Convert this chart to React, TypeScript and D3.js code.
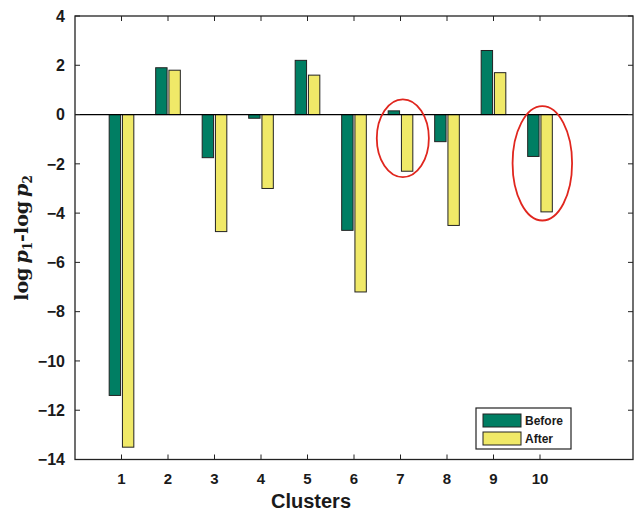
import React from "react";
import * as d3 from "d3";

const clusters = [1, 2, 3, 4, 5, 6, 7, 8, 9, 10];
const before = [-11.4, 1.9, -1.75, -0.15, 2.2, -4.7, 0.15, -1.1, 2.6, -1.7];
const after = [-13.5, 1.8, -4.75, -3.0, 1.6, -7.2, -2.3, -4.5, 1.7, -3.95];
const yTicks = [4, 2, 0, -2, -4, -6, -8, -10, -12, -14];
const seriesNames = ["Before", "After"];
const seriesColors = ["#007e63", "#f0e968"];
// highlighted clusters: [cx, cy, rx, ry] in data units
const highlights = [
  [7.05, -0.96, 0.56, 1.58],
  [10.05, -1.98, 0.64, 2.32],
];

export default function App() {
  const W = 638, H = 516;
  const L = 75, R = 633, T = 16, B = 459.5;
  const x = d3.scaleLinear().domain([0, 12]).range([L, R]);
  const y = d3.scaleLinear().domain([-14, 4]).range([B, T]);
  const bw = 0.245;
  const gap = 0.02;
  const font = "Liberation Sans, Arial, Helvetica, sans-serif";
  const bar = (v: number, xc: number, i: number) => {
    const x0 = i === 0 ? xc - gap - bw : xc + gap;
    const y0 = y(Math.max(0, v));
    const y1 = y(Math.min(0, v));
    return (
      <rect
        key={`${i}-${xc}`}
        x={x(x0)}
        y={y0}
        width={x(x0 + bw) - x(x0)}
        height={Math.max(0.5, y1 - y0)}
        fill={seriesColors[i]}
        stroke="#222"
        strokeWidth={1}
      />
    );
  };
  return (
    <svg width={W} height={H} style={{ display: "block", position: "absolute", left: 0, top: 0 }}>
      <rect x={0} y={0} width={W} height={H} fill="#fff" />
      {clusters.map((c, k) => bar(before[k], c, 0))}
      {clusters.map((c, k) => bar(after[k], c, 1))}
      <line x1={L} x2={R} y1={y(0)} y2={y(0)} stroke="#000" strokeWidth={1.2} />
      <rect x={L} y={T} width={R - L} height={B - T} fill="none" stroke="#222" strokeWidth={1.3} />
      {yTicks.map((t) => (
        <g key={`yt${t}`}>
          <line x1={L} x2={L + 5} y1={y(t)} y2={y(t)} stroke="#222" />
          <line x1={R - 5} x2={R} y1={y(t)} y2={y(t)} stroke="#222" />
          <text
            x={L - 10}
            y={y(t)}
            dy="0.36em"
            textAnchor="end"
            fontFamily={font}
            fontWeight="bold"
            fontSize={16}
            fill="#1a1a1a"
          >
            {t < 0 ? `\u2212${Math.abs(t)}` : t}
          </text>
        </g>
      ))}
      {clusters.map((c) => (
        <g key={`xt${c}`}>
          <line x1={x(c)} x2={x(c)} y1={B} y2={B - 5} stroke="#222" />
          <line x1={x(c)} x2={x(c)} y1={T} y2={T + 5} stroke="#222" />
          <text
            x={x(c)}
            y={B + 24}
            textAnchor="middle"
            fontFamily={font}
            fontWeight="bold"
            fontSize={15}
            fill="#1a1a1a"
          >
            {c}
          </text>
        </g>
      ))}
      {highlights.map(([cx, cy, rx, ry], i) => (
        <ellipse
          key={`h${i}`}
          cx={x(cx)}
          cy={y(cy)}
          rx={x(rx) - x(0)}
          ry={y(0) - y(ry)}
          fill="none"
          stroke="#e0261e"
          strokeWidth={1.8}
        />
      ))}
      <text
        x={311}
        y={508}
        textAnchor="middle"
        fontFamily={font}
        fontWeight="bold"
        fontSize={20}
        fill="#1a1a1a"
      >
        Clusters
      </text>
      <text
        transform={`translate(28,${238}) rotate(-90)`}
        textAnchor="middle"
        fontFamily="DejaVu Serif, Liberation Serif, serif"
        fontSize={19}
        fontWeight="bold"
        fill="#1a1a1a"
      >
        <tspan>log</tspan>
        <tspan fontStyle="italic" dx="4">p</tspan>
        <tspan fontSize={12} dy="4">1</tspan>
        <tspan dy="-4">-log</tspan>
        <tspan fontStyle="italic" dx="4">p</tspan>
        <tspan fontSize={12} dy="4">2</tspan>
      </text>
      <g>
        <rect x={476} y={408} width={95} height={41} fill="#fff" stroke="#222" strokeWidth={1.2} />
        {seriesNames.map((s, i) => (
          <g key={s}>
            <rect x={483} y={414 + i * 18} width={38} height={13} fill={seriesColors[i]} stroke="#222" />
            <text
              x={525}
              y={420.5 + i * 18}
              dy="0.36em"
              fontFamily={font}
              fontWeight="bold"
              fontSize={12}
              fill="#1a1a1a"
            >
              {s}
            </text>
          </g>
        ))}
      </g>
    </svg>
  );
}
